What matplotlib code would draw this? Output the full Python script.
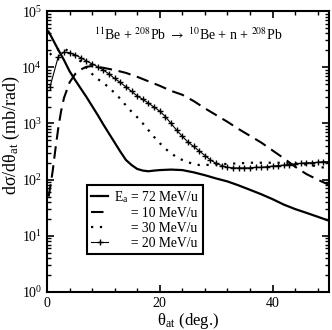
import matplotlib
matplotlib.use('Agg')
import matplotlib.pyplot as plt
from matplotlib.ticker import MultipleLocator, LogLocator, NullFormatter

plt.rcParams['font.family'] = ['Liberation Serif', 'DejaVu Serif']
plt.rcParams['mathtext.fontset'] = 'stix'

# E_a = 72 MeV/u (solid)
x72 = [0, 0.25, 1, 2, 3, 4, 5, 6, 7, 8, 9, 10, 11, 12, 13, 14, 15, 16, 17, 18, 19, 20,
       22, 24, 26, 28, 30, 32, 34, 36, 38, 40, 42, 44, 46, 48, 50]
y72 = [40000, 43600, 31600, 20400, 13500, 8500, 5900, 4170, 2950, 2040, 1410, 955, 660,
       457, 316, 224, 182, 155, 145, 141, 145, 148, 151, 148, 135, 120, 105, 93, 79, 66,
       55, 45, 36, 30, 25.7, 21.9, 18.6]

# E_a = 10 MeV/u (dashed)
x10 = [0.3, 1, 1.5, 2, 2.5, 3, 4, 5, 6, 7, 8, 10, 12, 14, 16, 18, 20, 22, 24, 26, 28, 30,
       32, 34, 36, 38, 40, 42, 44, 46, 48, 50]
y10 = [50, 141, 355, 830, 1660, 2820, 5370, 7590, 9120, 10200, 10500, 9770, 8910, 7940,
       6760, 5620, 4680, 3800, 3240, 2510, 1860, 1410, 1070, 794, 603, 457, 331, 240, 170,
       126, 100, 81]

# E_a = 30 MeV/u (dotted)
x30 = [0.5, 1, 2, 3, 4, 5, 6, 7, 8, 9, 10, 11, 12, 13, 14, 15, 16, 17, 18, 19, 20, 21,
       22, 23, 24, 25, 26, 27, 28, 30, 32, 34, 36, 38, 40, 42, 44, 46, 48, 50]
y30 = [16600, 18600, 20900, 21400, 19100, 15800, 12600, 9770, 7590, 6170, 5250, 4370,
       3470, 2750, 2090, 1620, 1290, 1000, 759, 575, 447, 355, 295, 251, 224, 204, 191,
       182, 182, 186, 191, 195, 200, 200, 200, 200, 195, 186, 174, 155]

# E_a = 20 MeV/u (crosses)
x20 = [0.5] + list(range(2, 51))
y20 = [4370, 15500, 18600, 18200, 16600, 14800, 12900, 11500, 10200, 8910, 7590, 6310,
       5370, 4470, 3720, 3090, 2690, 2290, 1950, 1660, 1320, 1000, 759, 589, 468, 389,
       324, 269, 224, 195, 178, 166, 162, 162, 162, 162, 166, 166, 170, 174, 178, 182,
       186, 191, 195, 200, 200, 204, 209, 209]

fig = plt.figure(figsize=(3.32, 3.30), dpi=100)
ax = fig.add_axes([0.1416, 0.115, 0.849, 0.8515])

ax.plot(x72, y72, color='black', lw=1.6, label=r'E$_\mathregular{a}$ = 72 MeV/u')
ax.plot(x10, y10, color='black', lw=1.5, linestyle=(0, (6, 3.2)),
        label='     = 10 MeV/u')
ax.plot(x30, y30, color='black', lw=1.6, linestyle=(0, (1, 3)),
        label='     = 30 MeV/u')
ax.plot(x20, y20, color='black', lw=0.8, marker='+', ms=5, mew=1,
        label='     = 20 MeV/u')

ax.set_yscale('log')
ax.set_xlim(0, 50)
ax.set_ylim(1, 1e5)
ax.xaxis.set_major_locator(MultipleLocator(20))
ax.xaxis.set_minor_locator(MultipleLocator(4))
ax.yaxis.set_major_locator(LogLocator(base=10, numticks=10))
ax.yaxis.set_minor_locator(LogLocator(base=10, subs=range(2, 10), numticks=20))
ax.yaxis.set_minor_formatter(NullFormatter())
ax.tick_params(which='both', direction='in', top=True, right=True, labelsize=10)
ax.tick_params(which='major', length=5, width=1.2)
ax.tick_params(which='minor', length=3, width=1)
for s in ax.spines.values():
    s.set_linewidth(1.5)

ax.set_xlabel(r'θ$_\mathregular{at}$ (deg.)', fontsize=12, labelpad=1)
ax.set_ylabel(r'dσ/dθ$_\mathregular{at}$ (mb/rad)', fontsize=13)
ax.yaxis.set_label_coords(-0.09, 0.56)

ax.text(25, 10**4.57, r'$^{11}$Be + $^{208}$Pb $\rightarrow$ $^{10}$Be + n + $^{208}$Pb',
        ha='center', va='center', fontsize=10)

leg = ax.legend(loc='lower left', bbox_to_anchor=(0.142, 0.135), fontsize=9.8,
                frameon=True, fancybox=False, edgecolor='black', framealpha=1,
                handlelength=1.25, handletextpad=0.45, borderpad=0.3, labelspacing=0.15,
                borderaxespad=0)
leg.get_frame().set_linewidth(1.5)

fig.savefig('out.png', dpi=100)
